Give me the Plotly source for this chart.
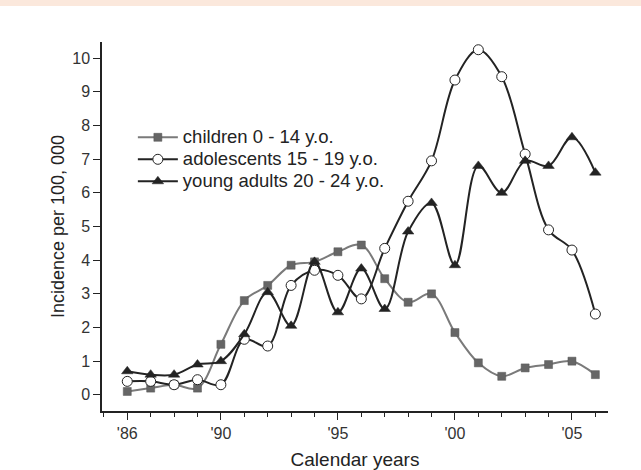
import plotly.graph_objects as go

years = list(range(1986, 2007))
children = [0.1, 0.2, 0.3, 0.2, 1.5, 2.8, 3.25, 3.85, 3.95, 4.25, 4.45,
            3.45, 2.75, 3.0, 1.85, 0.95, 0.55, 0.8, 0.9, 1.0, 0.6]
adolescents = [0.4, 0.4, 0.3, 0.45, 0.3, 1.65, 1.45, 3.25, 3.7, 3.55, 2.85,
               4.35, 5.75, 6.95, 9.35, 10.25, 9.45, 7.15, 4.9, 4.3, 2.4]
young_adults = [0.7, 0.6, 0.6, 0.9, 1.0, 1.8, 3.05, 2.05, 3.95, 2.45, 3.75,
                2.55, 4.85, 5.7, 3.85, 6.8, 6.0, 6.95, 6.8, 7.65, 6.6]

names = ["children 0 - 14 y.o.", "adolescents 15 - 19 y.o.", "young adults 20 - 24 y.o."]
xtick_vals = [1986, 1990, 1995, 2000, 2005]
xtick_text = ["'86", "'90", "'95", "'00", "'05"]

FONT = "Arial, Liberation Sans, sans-serif"
DARK = "#232323"


def big(label):
    return "<span style='font-size:18.5px'>" + label + "</span>"


fig = go.Figure()
fig.add_trace(go.Scatter(
    x=years, y=children, name=big(names[0]), mode="lines+markers",
    line=dict(color="#7a7a7a", width=2, shape="spline", smoothing=1),
    marker=dict(symbol="square", size=8, color="#666666",
                line=dict(color="#555555", width=0.5)),
))
fig.add_trace(go.Scatter(
    x=years, y=adolescents, name=big(names[1]), mode="lines+markers",
    line=dict(color=DARK, width=2, shape="spline", smoothing=1),
    marker=dict(symbol="circle", size=10, color="white",
                line=dict(color=DARK, width=1)),
))
fig.add_trace(go.Scatter(
    x=years, y=young_adults, name=big(names[2]), mode="lines+markers",
    line=dict(color=DARK, width=2, shape="spline", smoothing=1),
    marker=dict(symbol="triangle-up", size=10, color=DARK,
                line=dict(color=DARK, width=0.5)),
))

# peach band at the very top of the scan
fig.add_shape(type="rect", xref="paper", yref="paper",
              x0=-0.25, x1=1.1, y0=1.0976, y1=1.12,
              fillcolor="#fbe8dc", line=dict(width=0), layer="below")

fig.update_layout(
    width=641, height=470,
    margin=dict(l=102, r=33, t=42, b=59, autoexpand=False),
    paper_bgcolor="white", plot_bgcolor="white",
    font=dict(family=FONT, color=DARK, size=16),
    showlegend=True,
    legend=dict(x=0.061, y=0.785, xanchor="left", yanchor="top",
                bgcolor="rgba(0,0,0,0)", font=dict(size=14.6, color=DARK),
                tracegroupgap=0, itemwidth=40),
    xaxis=dict(
        range=[1984.92, 2006.54], automargin=False,
        tickmode="array", tickvals=xtick_vals, ticktext=xtick_text,
        ticks="outside", ticklen=7, tickwidth=1, tickcolor=DARK,
        showline=True, linecolor=DARK, linewidth=1.5,
        showgrid=False, zeroline=False,
        tickfont=dict(size=16, color="#333333"),
        minor=dict(tickmode="linear", tick0=1986, dtick=1, ticks="outside",
                   ticklen=4, tickwidth=1, tickcolor=DARK, showgrid=False),
        title=dict(text="Calendar years", font=dict(size=19, color=DARK), standoff=12),
    ),
    yaxis=dict(
        range=[-0.48, 10.48], dtick=1, tick0=0, automargin=False,
        ticks="outside", ticklen=7, tickwidth=1, tickcolor=DARK,
        showline=True, linecolor=DARK, linewidth=1.5,
        showgrid=False, zeroline=False,
        tickfont=dict(size=16, color="#333333"),
        title=dict(text="Incidence per 100, 000", font=dict(size=18, color=DARK), standoff=3),
    ),
)

fig.write_html("out.html")
